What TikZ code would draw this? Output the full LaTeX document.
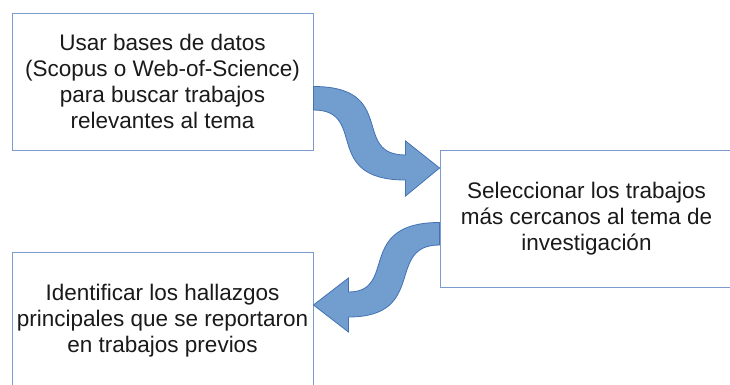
\documentclass[tikz,border=0pt]{standalone}
\usepackage{fontspec}
\setmainfont{Liberation Sans}
\usetikzlibrary{calc,positioning}
\definecolor{boxline}{RGB}{124,156,208}
\definecolor{bandfill}{RGB}{114,157,207}
\definecolor{bandline}{RGB}{66,114,180}
\definecolor{txt}{RGB}{26,26,26}

\begin{document}
\begin{tikzpicture}[x=1pt,y=-1pt,
		box/.style={draw=boxline,line width=0.9pt,fill=white,align=center,
			inner sep=0pt,minimum width=301pt,minimum height=137pt,text=txt,
			font=\fontsize{22.5}{26}\selectfont},
		band/.style={draw=bandline,fill=bandfill,line width=0.8pt,line join=miter}]
		\clip (0,0) rectangle (730,385);
		\node[box] (usar) at (162.5,81.5) {Usar bases de datos\\(Scopus o Web-of-Science)\\para buscar trabajos\\relevantes al tema};
		\node[box,minimum width=293pt] (selec) at (586.5,218.5) {Seleccionar los trabajos\\más cercanos al tema de\\investigación};
		\node[box] (ident) at (162.5,321) {Identificar los hallazgos\\principales que se reportaron\\en trabajos previos};

		% first curved arrow
		\coordinate (s1) at ($(usar.east)+(0,16.5)$);
		\coordinate (t1) at ($(selec.west)+(0,-50.5)$);
		\filldraw[band] ($(s1)+(0,-11.5)$) .. controls +(85,0) and +(-55,0) .. ($(t1)+(-34,-13)$)
			-- ($(t1)+(-34,-27)$) -- (t1) -- ($(t1)+(-34,28)$) -- ($(t1)+(-34,12)$)
			.. controls +(-85,0) and +(55,0) .. ($(s1)+(0,12)$) -- cycle;

		% second curved arrow
		\coordinate (s2) at ($(selec.west)+(0,15.5)$);
		\coordinate (t2) at ($(ident.east)+(0,-16)$);
		\filldraw[band] ($(s2)+(0,-11.5)$) .. controls +(-85,0) and +(50,0) .. ($(t2)+(35,-13)$)
			-- ($(t2)+(35,-27)$) -- (t2) -- ($(t2)+(35,27)$) -- ($(t2)+(35,12)$)
			.. controls +(80,0) and +(-55,0) .. ($(s2)+(0,11)$) -- cycle;
	\end{tikzpicture}
\end{document}
